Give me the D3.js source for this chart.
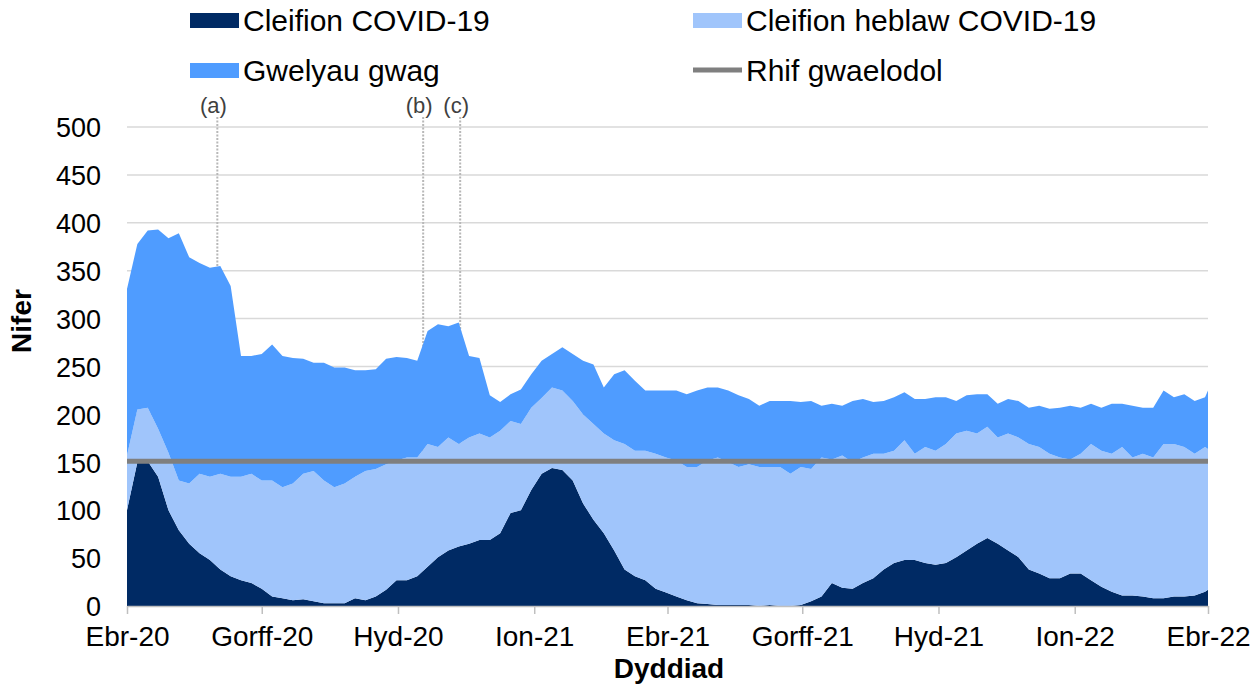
<!DOCTYPE html>
<html>
<head>
<meta charset="utf-8">
<script src="https://cdn.jsdelivr.net/npm/d3@7"></script>
<style>
  html, body { margin: 0; padding: 0; background: #ffffff; }
  svg { display: block; }
  text { font-family: "Liberation Sans", Arial, sans-serif; fill: #000; }
</style>
</head>
<body>
<svg id="chart" width="1257" height="684"></svg>
<script>
// ---------- DATA (weekly readings from 1 Apr 2020; last value = 1 Apr 2022) ----------
const startDate = "2020-04-01";
const endDate = "2022-04-01";

// COVID-19 patients (dark)
const covidPatients = [
  100,150,151,135,100,79,65,55,48,38,31,27,24,18,10,8,6,7,5,3,
  3,3,8,6,10,17,27,27,31,41,51,58,62,65,69,69,76,97,100,121,
  138,144,142,131,107,90,76,58,38,31,27,18,14,10,6,3,2,1,1,1,
  1,0,1,0,0,1,5,10,24,19,18,24,29,38,45,48,48,45,43,45,
  51,58,65,71,65,58,51,38,34,29,29,34,34,27,20,15,11,11,10,8,
  8,10,10,11,15,17
];
// All patients, COVID-19 + non COVID-19 (top of light band)
const totalPatients = [
  157,205,207,185,160,131,128,138,135,138,135,135,138,131,131,124,128,138,141,131,
  124,128,135,141,143,148,152,155,155,169,166,176,169,176,180,176,183,193,190,207,
  217,228,225,214,200,190,180,173,169,162,162,159,155,152,145,145,152,155,150,145,
  148,145,145,145,138,145,143,155,153,157,150,155,159,159,162,173,159,166,162,169,
  180,183,180,187,176,180,176,169,166,159,155,153,159,169,162,159,166,155,159,155,
  169,169,166,159,166,164
];
// Total beds (top of empty-bed band)
const totalBeds = [
  331,378,392,393,384,389,364,358,353,355,334,261,261,263,273,261,259,258,254,254,
  249,249,246,246,247,258,260,259,256,287,294,292,296,261,259,220,213,221,226,242,
  256,263,270,263,256,252,228,242,246,235,225,225,225,225,221,225,228,228,225,220,
  216,209,214,214,214,213,214,209,211,209,214,216,213,214,218,223,216,216,218,218,
  214,220,221,221,211,216,214,207,209,206,207,209,207,211,207,211,211,209,207,207,
  225,218,221,214,218,225
];
const baselineValue = 151;

const seriesNames = ["Cleifion COVID-19", "Cleifion heblaw COVID-19", "Gwelyau gwag", "Rhif gwaelodol"];
const xTickDates = ["2020-04-01","2020-07-01","2020-10-01","2021-01-01","2021-04-01","2021-07-01","2021-10-01","2022-01-01","2022-04-01"];
const xTickLabels = ["Ebr-20","Gorff-20","Hyd-20","Ion-21","Ebr-21","Gorff-21","Hyd-21","Ion-22","Ebr-22"];
const yTicks = [0,50,100,150,200,250,300,350,400,450,500];
const annotationDates = ["2020-06-01","2020-10-18","2020-11-12"];
const annotationLabels = ["(a)","(b)","(c)"];

// ---------- BUILD ----------
const parse = d3.utcParse("%Y-%m-%d");
const t0 = parse(startDate), t1 = parse(endDate);
const dates = covidPatients.map((_, i) => i < covidPatients.length - 1 ? d3.utcDay.offset(t0, 7 * i) : t1);
const rows = dates.map((d, i) => ({
  date: d,
  covid: covidPatients[i],
  nonCovid: totalPatients[i] - covidPatients[i],
  empty: totalBeds[i] - totalPatients[i]
}));

const colors = { covid: "#002a64", nonCovid: "#a0c5fb", empty: "#4f9cff" };
const FONT = "'Liberation Sans', Arial, sans-serif";

const svg = d3.select("#chart");
const L = 127, R = 1208, T = 127, B = 606;

const x = d3.scaleUtc().domain([t0, t1]).range([L, R]);
const y = d3.scaleLinear().domain([0, 500]).range([B, T]);

// gridlines
svg.append("g").selectAll("line").data(yTicks.filter(v => v > 0)).join("line")
  .attr("x1", L).attr("x2", R)
  .attr("y1", d => y(d)).attr("y2", d => y(d))
  .attr("stroke", "#d9d9d9").attr("stroke-width", 1.5);

// annotation dotted lines
const ann = svg.append("g");
annotationDates.forEach((ds, i) => {
  const xd = x(parse(ds));
  ann.append("line").attr("x1", xd).attr("x2", xd).attr("y1", 117).attr("y2", y(150))
    .attr("stroke", "#b8b8b8").attr("stroke-width", 2).attr("stroke-dasharray", "2,1.5");
  ann.append("text").attr("x", xd - 4).attr("y", 113).attr("text-anchor", "middle")
    .attr("font-size", 22).style("fill", "#404040").text(annotationLabels[i]);
});

// stacked areas
const keys = ["covid", "nonCovid", "empty"];
const stacked = d3.stack().keys(keys)(rows);
const area = d3.area()
  .x(d => x(d.data.date))
  .y0(d => y(d[0]))
  .y1(d => y(d[1]))
  .curve(d3.curveLinear);
svg.append("g").selectAll("path").data(stacked).join("path")
  .attr("d", area)
  .attr("fill", d => colors[d.key]);

// baseline
svg.append("line").attr("x1", L).attr("x2", R)
  .attr("y1", y(baselineValue)).attr("y2", y(baselineValue))
  .attr("stroke", "#7f7f7f").attr("stroke-width", 5);

// x axis
const xAxis = d3.axisBottom(x)
  .tickValues(xTickDates.map(parse))
  .tickFormat((d, i) => xTickLabels[i])
  .tickSize(8).tickSizeOuter(0);
const gx = svg.append("g").attr("transform", `translate(0,${B})`).call(xAxis);
gx.select(".domain").attr("stroke", "#bfbfbf").attr("stroke-width", 1.5);
gx.selectAll(".tick line").attr("stroke", "#bfbfbf").attr("stroke-width", 1.5);
gx.selectAll(".tick text").attr("font-size", 28).attr("dy", 0).attr("y", 40)
  .style("font-family", FONT).style("fill", "#000");

// y axis
const yAxis = d3.axisLeft(y).tickValues(yTicks).tickSize(0).tickPadding(0);
const gy = svg.append("g").attr("transform", `translate(101,0)`).call(yAxis);
gy.select(".domain").remove();
gy.selectAll(".tick text").attr("font-size", 27).attr("dy", "0.36em")
  .style("font-family", FONT).style("fill", "#000");

// axis titles
svg.append("text").attr("transform", "translate(31,321) rotate(-90)")
  .attr("text-anchor", "middle").attr("font-size", 28).attr("font-weight", "bold").text("Nifer");
svg.append("text").attr("x", 669).attr("y", 678)
  .attr("text-anchor", "middle").attr("font-size", 28).attr("font-weight", "bold").text("Dyddiad");

// legend
const legend = svg.append("g");
const legendItems = [
  { name: seriesNames[0], color: colors.covid, type: "rect", x: 190, y: 20 },
  { name: seriesNames[1], color: colors.nonCovid, type: "rect", x: 693, y: 20 },
  { name: seriesNames[2], color: colors.empty, type: "rect", x: 190, y: 70 },
  { name: seriesNames[3], color: "#7f7f7f", type: "line", x: 693, y: 70 }
];
legendItems.forEach(it => {
  if (it.type === "rect") {
    legend.append("rect").attr("x", it.x).attr("y", it.y - 7).attr("width", 49).attr("height", 15).attr("fill", it.color);
  } else {
    legend.append("line").attr("x1", it.x).attr("x2", it.x + 49).attr("y1", it.y).attr("y2", it.y)
      .attr("stroke", it.color).attr("stroke-width", 5);
  }
  legend.append("text").attr("x", it.x + 53).attr("y", it.y).attr("dy", "0.36em")
    .attr("font-size", 30).text(it.name);
});
</script>
</body>
</html>
